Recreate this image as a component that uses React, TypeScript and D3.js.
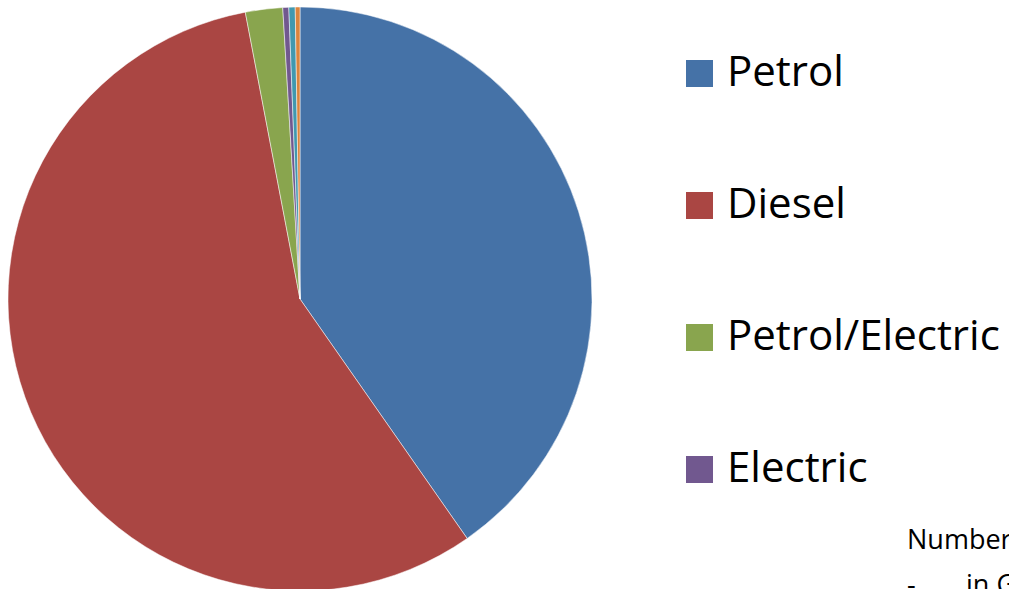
import React from "react";
import * as d3 from "d3";

const categories = ["Petrol", "Diesel", "Petrol/Electric", "Electric", "Gas", "Other"];
const values = [40.3, 56.7, 2.06, 0.33, 0.35, 0.26];
const colors = ["#4572A7", "#AA4643", "#89A54E", "#71588F", "#4198AF", "#DB843D"];
const noteLine1 = "Number of licensed cars";
const noteBullet = "-";
const noteLine2 = "in Great Britain";

const W = 1009;
const H = 589;

export default function App() {
  const cx = 300;
  const cy = 299;
  const r = 292;
  const pie = d3.pie<number>().sort(null).value((d) => d);
  const arcs = pie(values);
  const arc = d3.arc<d3.PieArcDatum<number>>().innerRadius(0).outerRadius(r);

  const legendY = d3.scaleLinear().domain([0, 1]).range([86, 218]);
  const font = "'Open Sans', 'Noto Sans', sans-serif";
  const legendItems = categories
    .map((c, i) => ({ c, i, by: legendY(i) }))
    .filter((d) => d.by + 2 < H);

  return (
    <svg
      width={W}
      height={H}
      style={{ position: "absolute", left: 0, top: 0, background: "#fff" }}
    >
      <rect x={0} y={0} width={W} height={H} fill="#fff" />
      <g transform={`translate(${cx},${cy})`}>
        {arcs.map((a, i) => (
          <path key={i} d={arc(a) || ""} fill={colors[i]} stroke="#fff" strokeWidth={0.5} />
        ))}
      </g>
      <g>
        {legendItems.map(({ c, i, by }) => (
          <g key={c}>
            <rect x={686} y={by - 26} width={27} height={27} fill={colors[i]} />
            <text x={727} y={by} fontFamily={font} fontSize={42} fill="#000">
              {c}
            </text>
          </g>
        ))}
      </g>
      <g fontFamily={font} fontSize={27} fill="#000">
        <text x={907} y={549}>{noteLine1}</text>
        <text x={907} y={594}>{noteBullet}</text>
        <text x={966} y={594}>{noteLine2}</text>
      </g>
    </svg>
  );
}
